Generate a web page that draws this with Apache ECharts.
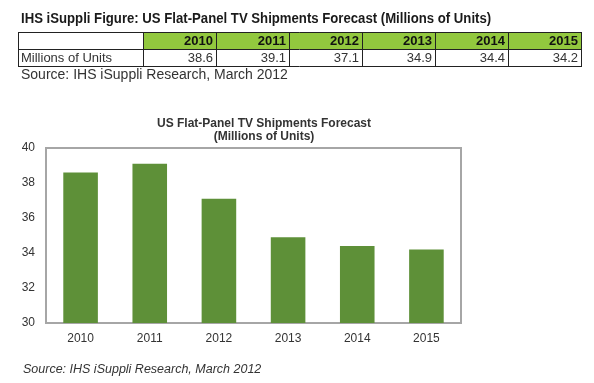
<!DOCTYPE html>
<html>
<head>
<meta charset="utf-8">
<script src="https://cdn.jsdelivr.net/npm/echarts@6/dist/echarts.min.js"></script>
<style>
html,body{margin:0;padding:0;background:#fff;}
#chart{width:594px;height:383px;}
</style>
</head>
<body>
<div id="chart"></div>
<script>
const years = ['2010', '2011', '2012', '2013', '2014', '2015'];
const units = [38.6, 39.1, 37.1, 34.9, 34.4, 34.2];
const tableRowLabel = 'Millions of Units';
const pageTitle = 'IHS iSuppli Figure: US Flat-Panel TV Shipments Forecast (Millions of Units)';
const sourceTop = 'Source: IHS iSuppli Research, March 2012';
const chartTitle1 = 'US Flat-Panel TV Shipments Forecast';
const chartTitle2 = '(Millions of Units)';
const sourceBottom = 'Source: IHS iSuppli Research, March 2012';

const chart = echarts.init(document.getElementById('chart'), null, {renderer: 'canvas'});

// table layout
const tLeft = 18, tFirstW = 125, tColW = 73, tTop = 32, tRowH = 17;
const tRight = tLeft + tFirstW + tColW * years.length;
const graphics = [];
graphics.push({type: 'text', x: 21, y: 19, scaleX: 0.94, style: {text: pageTitle, font: 'bold 14px "Liberation Sans", Arial', fill: '#1a1a1a', align: 'left', verticalAlign: 'middle'}});
// header row green
graphics.push({type: 'rect', shape: {x: tLeft + tFirstW, y: tTop, width: tColW * years.length, height: tRowH}, style: {fill: '#92c83e'}});
// horizontal lines
[tTop, tTop + tRowH, tTop + 2 * tRowH].forEach(function (y) {
  graphics.push({type: 'line', shape: {x1: tLeft, y1: y + 0.5, x2: tRight, y2: y + 0.5}, style: {stroke: '#222', lineWidth: 1}});
});
// vertical lines
const vxs = [tLeft, tLeft + tFirstW];
years.forEach(function (_, i) { vxs.push(tLeft + tFirstW + tColW * (i + 1)); });
vxs.forEach(function (x) {
  graphics.push({type: 'line', shape: {x1: x + 0.5, y1: tTop, x2: x + 0.5, y2: tTop + 2 * tRowH + 1}, style: {stroke: '#222', lineWidth: 1}});
});
years.forEach(function (yr, i) {
  const xr = tLeft + tFirstW + tColW * (i + 1) - 3;
  graphics.push({type: 'text', x: xr, y: tTop + tRowH / 2 + 1, style: {text: yr, font: 'bold 13px "Liberation Sans", Arial', fill: '#111', align: 'right', verticalAlign: 'middle'}});
  graphics.push({type: 'text', x: xr, y: tTop + tRowH * 1.5 + 1, style: {text: units[i].toFixed(1), font: '13px "Liberation Sans", Arial', fill: '#333', align: 'right', verticalAlign: 'middle'}});
});
graphics.push({type: 'text', x: tLeft + 3, y: tTop + tRowH * 1.5 + 1, style: {text: tableRowLabel, font: '13px "Liberation Sans", Arial', fill: '#333', align: 'left', verticalAlign: 'middle'}});
graphics.push({type: 'text', x: 21, y: 75, style: {text: sourceTop, font: '14px "Liberation Sans", Arial', fill: '#333', align: 'left', verticalAlign: 'middle'}});
// chart title
graphics.push({type: 'text', x: 264, y: 124, style: {text: chartTitle1, font: 'bold 12px "Liberation Sans", Arial', fill: '#333', align: 'center', verticalAlign: 'middle'}});
graphics.push({type: 'text', x: 264, y: 137, style: {text: chartTitle2, font: 'bold 12px "Liberation Sans", Arial', fill: '#333', align: 'center', verticalAlign: 'middle'}});
graphics.push({type: 'text', x: 23, y: 370, style: {text: sourceBottom, font: 'italic 12.5px "Liberation Sans", Arial', fill: '#333', align: 'left', verticalAlign: 'middle'}});

chart.setOption({
  animation: false,
  backgroundColor: '#fff',
  grid: {left: 46, right: 133, top: 148, bottom: 60, show: true, borderColor: '#a6a6a6', borderWidth: 2, containLabel: false},
  xAxis: {
    type: 'category', data: years,
    axisLine: {show: false}, axisTick: {show: false},
    axisLabel: {color: '#333', fontSize: 12, fontFamily: '"Liberation Sans", Arial', margin: 10}
  },
  yAxis: {
    type: 'value', min: 30, max: 40, interval: 2,
    axisLine: {show: false}, axisTick: {show: false}, splitLine: {show: false},
    axisLabel: {color: '#333', fontSize: 12, fontFamily: '"Liberation Sans", Arial', margin: 11}
  },
  series: [{
    type: 'bar', data: units, barWidth: '50%',
    itemStyle: {color: '#5e9038'}
  }],
  graphic: graphics
});
</script>
</body>
</html>
